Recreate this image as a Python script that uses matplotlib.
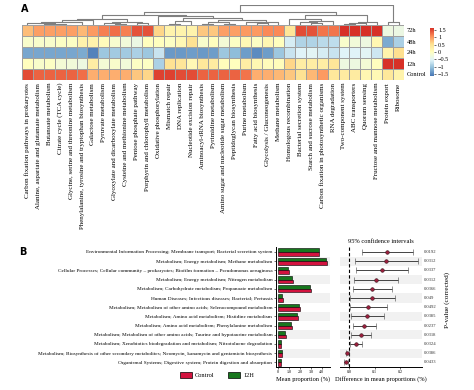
import numpy as np
import matplotlib
matplotlib.use('Agg')
import matplotlib.pyplot as plt
from matplotlib.colors import LinearSegmentedColormap
from matplotlib.patches import Patch
import matplotlib.transforms as mtransforms

# ---------------- Panel A data ----------------
pathways = [
    "Carbon fixation pathways in prokaryotes",
    "Alanine, aspartate and glutamate metabolism",
    "Butanoate metabolism",
    "Citrate cycle (TCA cycle)",
    "Glycine, serine and threonine metabolism",
    "Phenylalanine, tyrosine and tryptophan biosynthesis",
    "Galactose metabolism",
    "Pyruvate metabolism",
    "Glyoxylate and dicarboxylate metabolism",
    "Cysteine and methionine metabolism",
    "Pentose phosphate pathway",
    "Porphyrin and chlorophyll metabolism",
    "Oxidative phosphorylation",
    "Mismatch repair",
    "DNA replication",
    "Nucleotide excision repair",
    "Aminoacyl-tRNA biosynthesis",
    "Pyrimidine metabolism",
    "Amino sugar and nucleotide sugar metabolism",
    "Peptidoglycan biosynthesis",
    "Purine metabolism",
    "Fatty acid biosynthesis",
    "Glycolysis / Gluconeogenesis",
    "Methane metabolism",
    "Homologous recombination",
    "Bacterial secretion system",
    "Starch and sucrose metabolism",
    "Carbon fixation in photosynthetic organisms",
    "RNA degradation",
    "Two-component system",
    "ABC transporters",
    "Quorum sensing",
    "Fructose and mannose metabolism",
    "Protein export",
    "Ribosome",
]
samples = ["72h", "48h", "24h", "12h", "Control"]

z_72h = [0.75, 0.95, 0.95, 0.95, 0.95, 0.8, 1.0, 1.15, 1.25, 1.15, 1.4, 1.4,
         0.6, 0.2, 0.2, 0.2, 0.7, 0.7, 0.95, 0.95, 1.0, 1.0, 1.1, 1.1,
         0.45, 1.45, 1.4, 1.2, 1.2, 1.65, 1.7, 1.65, 1.7, -0.3, -0.35]
z_48h = [-0.1, -0.1, -0.1, -0.05, -0.05, 0.2, 0.2, 0.05, -0.15, -0.25, -0.35, 0.0,
         0.0, -0.05, 0.1, 0.5, -0.1, 0.0, -0.2, -0.05, 0.1, -0.05, 0.15, 0.0,
         -0.6, -0.85, -0.85, -0.8, -0.75, -0.1, -0.25, -0.3, 0.15, -1.2, -0.9]
z_24h = [-1.25, -1.25, -1.25, -1.25, -1.25, -1.2, -1.5, -1.0, -0.95, -0.95, -0.9, -1.0,
         -0.7, -1.35, -1.35, -1.3, -1.35, -1.3, -1.0, -1.1, -1.3, -1.45, -1.3, -1.0,
         -0.7, -0.55, -0.5, -0.6, -0.7, -0.55, -0.55, -0.5, -0.65, 0.2, 0.55]
z_12h = [0.0, -0.1, -0.05, -0.2, -0.25, -0.3, 0.3, -0.2, -0.1, -0.25, -0.05, -0.05,
         -0.9, 0.5, 0.45, 0.1, 0.4, 0.35, 0.05, 0.0, 0.3, 0.15, 0.05, 0.05,
         0.6, 0.3, 0.3, 0.3, 0.45, -0.3, -0.3, -0.2, 0.0, 1.6, 1.6]
z_control = [1.45, 1.3, 1.3, 1.3, 1.3, 1.25, 0.85, 0.85, 0.85, 0.85, 0.7, 0.6,
             1.5, 1.5, 1.45, 1.45, 1.3, 1.3, 1.3, 1.3, 1.2, 0.85, 0.85, 0.8,
             0.7, 0.5, 0.8, 1.0, 0.4, 0.35, 0.35, 0.15, 0.1, 0.4, 0.2]

cbar_ticks = [-1.5, -1, -0.5, 0, 0.5, 1, 1.5]

# ---------------- Panel B data ----------------
kegg_terms = [
    "Environmental Information Processing; Membrane transport; Bacterial secretion system",
    "Metabolism; Energy metabolism; Methane metabolism",
    "Cellular Processes; Cellular community \u2013 prokaryotes; Biofilm formation \u2013 Pseudomonas aeruginosa",
    "Metabolism; Energy metabolism; Nitrogen metabolism",
    "Metabolism; Carbohydrate metabolism; Propanoate metabolism",
    "Human Diseases; Infectious diseases; Bacterial; Pertussis",
    "Metabolism; Metabolism of other amino acids; Selenocompound metabolism",
    "Metabolism; Amino acid metabolism; Histidine metabolism",
    "Metabolism; Amino acid metabolism; Phenylalanine metabolism",
    "Metabolism; Metabolism of other amino acids; Taurine and hypotaurine metabolism",
    "Metabolism; Xenobiotics biodegradation and metabolism; Nitrotoluene degradation",
    "Metabolism; Biosynthesis of other secondary metabolites; Neomycin, kanamycin and gentamicin biosynthesis",
    "Organismal Systems; Digestive system; Protein digestion and absorption",
]
mean_12h = [3.70, 4.40, 0.85, 1.28, 2.94, 0.30, 1.93, 1.74, 1.16, 0.58, 0.25, 0.34, 0.25]
mean_control = [3.75, 4.50, 0.95, 1.38, 3.00, 0.40, 1.99, 1.80, 1.22, 0.67, 0.28, 0.33, 0.24]
diff_mean = [0.149, 0.145, 0.127, 0.104, 0.090, 0.090, 0.075, 0.069, 0.059, 0.047, 0.026, -0.008, -0.012]
ci_low = [0.049, 0.022, 0.025, 0.018, 0.013, 0.002, 0.001, 0.005, 0.015, 0.008, 0.002, -0.013, -0.020]
ci_high = [0.251, 0.271, 0.229, 0.190, 0.169, 0.178, 0.149, 0.135, 0.104, 0.086, 0.050, -0.001, -0.004]
p_values = ["0.0192", "0.0312", "0.0337", "0.0312", "0.0366", "0.049", "0.0492",
            "0.0385", "0.0237", "0.0318", "0.0324", "0.0386", "0.0433"]
bar_ticks = [0, 1, 2, 3, 4]
bar_ticklabels = ["0", "1.0", "2.0", "3.0", "4.0"]
ci_ticks = [0.0, 0.1, 0.2]

# ---------------- figure ----------------
W, H = 474, 390
fig = plt.figure(figsize=(W / 100, H / 100), dpi=100)
SERIF = ["Liberation Serif", "DejaVu Serif"]


def fax(x0, y0, x1, y1):
    return fig.add_axes([x0 / W, 1 - y1 / H, (x1 - x0) / W, (y1 - y0) / H])


data = np.array([z_72h, z_48h, z_24h, z_12h, z_control])
ncol = data.shape[1]

cmap = LinearSegmentedColormap.from_list(
    "pheat", ["#4575B4", "#91BFDB", "#E0F3F8", "#FFFFBF", "#FEE090", "#FC8D59", "#D73027"], N=100)
vmin, vmax = -1.62, 1.62

ax_hm = fax(22, 25, 404, 80)
mesh = ax_hm.pcolormesh(np.arange(ncol + 1), np.arange(len(samples) + 1), data,
                        cmap=cmap, vmin=vmin, vmax=vmax, edgecolor="#a0a0a0", linewidth=0.5)
ax_hm.set_xlim(0, ncol)
ax_hm.set_ylim(len(samples), 0)
ax_hm.set_xticks(np.arange(ncol) + 0.5)
ax_hm.set_xticklabels(pathways, rotation=90, fontsize=5, family=SERIF, va="top", ha="center")
ax_hm.set_yticks(np.arange(len(samples)) + 0.5)
ax_hm.set_yticklabels(samples, fontsize=4.6, family=SERIF)
ax_hm.yaxis.tick_right()
ax_hm.tick_params(length=0, pad=2)
for s in ax_hm.spines.values():
    s.set_visible(False)


# dendrogram (complete linkage restricted to neighbouring clusters, keeps column order)
def constrained_tree(mat):
    n = mat.shape[1]
    clusters = [dict(idx=[i], x=i + 0.5, h=0.0) for i in range(n)]
    segs = []
    while len(clusters) > 1:
        best = None
        for k in range(len(clusters) - 1):
            a, b = clusters[k], clusters[k + 1]
            d = max(np.linalg.norm(mat[:, i] - mat[:, j]) for i in a["idx"] for j in b["idx"])
            if best is None or d < best[0]:
                best = (d, k)
        d, k = best
        a, b = clusters[k], clusters[k + 1]
        h = max(d, a["h"], b["h"])
        segs.append(([a["x"], a["x"], b["x"], b["x"]], [a["h"], h, h, b["h"]]))
        clusters[k:k + 2] = [dict(idx=a["idx"] + b["idx"], x=(a["x"] + b["x"]) / 2, h=h)]
    return segs, clusters[0]["h"]


segs, hmax = constrained_tree(data)
ax_dg = fax(22, 5, 404, 25)
for xs, ys in segs:
    ax_dg.plot(xs, ys, color="#7f7f7f", lw=0.8, solid_capstyle="butt")
ax_dg.set_xlim(0, ncol)
ax_dg.set_ylim(0, hmax * 1.02)
ax_dg.axis("off")

ax_cb = fax(430, 28, 434, 76)
cb = fig.colorbar(mesh, cax=ax_cb, ticks=cbar_ticks)
cb.outline.set_visible(False)
cb.ax.set_yticklabels([("%g" % t).replace("-", "\u2212") for t in cbar_ticks], fontsize=4.4, family=SERIF)
cb.ax.tick_params(length=1.5, width=0.4, pad=1.5)

fig.text(25 / W, 1 - 9 / H, "A", fontsize=7, fontweight="bold", ha="center", va="center")
fig.text(23 / W, 1 - 252 / H, "B", fontsize=7, fontweight="bold", ha="center", va="center")

# ---------------- Panel B ----------------
nrow = len(kegg_terms)
ypos = np.arange(nrow)
red = "#D3133F"
green = "#17771E"

ax_bar = fax(275.7, 247.4, 330, 367)
ax_ci = fax(340, 247.4, 421.7, 367)
for ax in (ax_bar, ax_ci):
    ax.set_ylim(nrow - 0.5, -0.5)
    for i in ypos[1::2]:
        ax.axhspan(i - 0.5, i + 0.5, color="#f1f1f1", lw=0, zorder=0)

bh = 0.4
ax_bar.barh(ypos - bh / 2, mean_12h, height=bh, color=green, edgecolor="black", lw=0.4, zorder=2)
ax_bar.barh(ypos + bh / 2, mean_control, height=bh, color=red, edgecolor="black", lw=0.4, zorder=2)
ax_bar.set_xlim(-0.24, 4.74)
ax_bar.set_yticks(ypos)
ax_bar.set_yticklabels(kegg_terms, fontsize=3.8, family=SERIF)
ax_bar.set_xticks(bar_ticks)
ax_bar.set_xticklabels(bar_ticklabels, fontsize=3, family=SERIF)
ax_bar.tick_params(axis="y", length=1.5, width=0.4, pad=1)
ax_bar.tick_params(axis="x", length=1.5, width=0.4, pad=1)
ax_bar.spines["top"].set_visible(False)
ax_bar.spines["right"].set_visible(False)
ax_bar.spines["left"].set_linewidth(0.7)
ax_bar.spines["bottom"].set_linewidth(0.7)
ax_bar.set_xlabel("Mean proportion (%)", fontsize=4.6, family=SERIF, labelpad=1)

diff = np.array(diff_mean)
err = np.vstack([diff - np.array(ci_low), np.array(ci_high) - diff])
ax_ci.errorbar(diff, ypos, xerr=err, fmt="o", ms=2.6, mfc="#9b1e3c", mec="#3a1a20", mew=0.4,
               ecolor="#444444", elinewidth=0.7, capsize=2, capthick=0.7, zorder=3)
ax_ci.axvline(0, color="black", lw=0.8, ls=(0, (3, 2)), zorder=2, clip_on=False, ymin=0, ymax=1.02)
ax_ci.set_xlim(-0.0365, 0.284)
ax_ci.set_xticks(ci_ticks)
ax_ci.set_xticklabels(["%.1f" % t for t in ci_ticks], fontsize=3, family=SERIF)
ax_ci.tick_params(axis="x", length=1.5, width=0.4, pad=1)
ax_ci.set_yticks([])
for s in ("top", "right", "left"):
    ax_ci.spines[s].set_visible(False)
ax_ci.spines["bottom"].set_linewidth(0.7)
ax_ci.set_xlabel("Difference in mean proportions (%)", fontsize=4.6, family=SERIF, labelpad=1)
ax_ci.set_title("95% confidence intervals", fontsize=4.6, family=SERIF, pad=3)

trans = mtransforms.blended_transform_factory(ax_ci.transAxes, ax_ci.transData)
for y, p in zip(ypos, p_values):
    ax_ci.text(1.03, y, p, transform=trans, fontsize=3.3, family=SERIF, va="center", ha="left",
               color="#333333")
fig.text(447 / W, 1 - 300 / H, "P-value (corrected)", rotation=90, fontsize=5.2, family=SERIF,
         ha="center", va="center")

handles = [Patch(facecolor=red, edgecolor="black", lw=0.5), Patch(facecolor=green, edgecolor="black", lw=0.5)]
fig.legend(handles, ["Control", "12H"], loc="center", bbox_to_anchor=(217 / W, 1 - 375 / H), ncol=2,
           frameon=False, prop={"family": SERIF, "size": 4.6}, handlelength=1.8, handleheight=1.0,
           columnspacing=2.2, handletextpad=0.5)

fig.savefig("out.png", dpi=100)
